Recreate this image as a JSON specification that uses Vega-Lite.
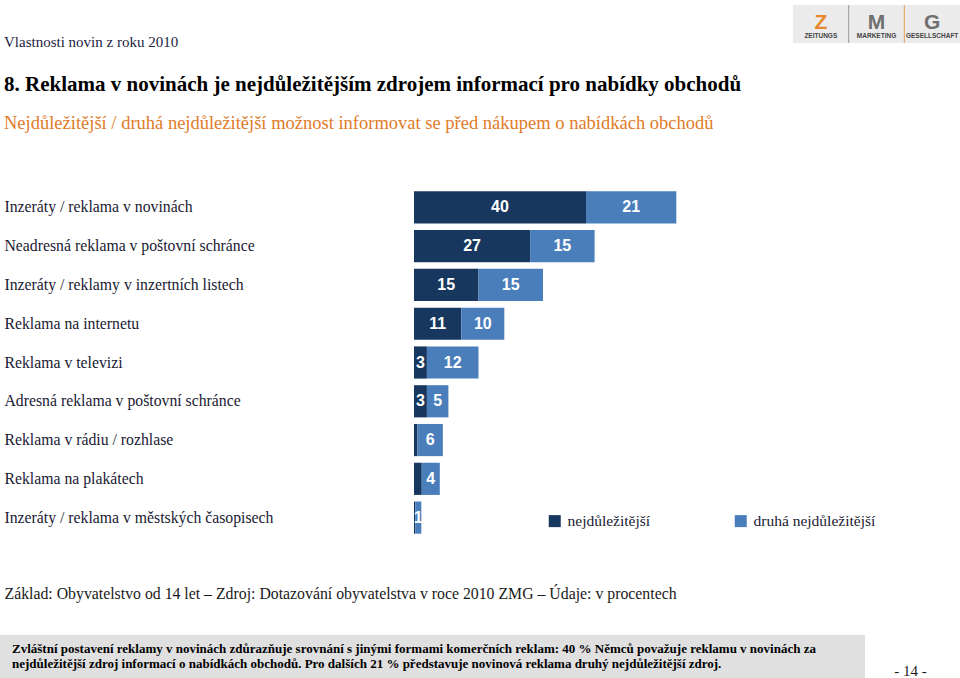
{
  "$schema": "https://vega.github.io/schema/vega-lite/v6.json",
  "background": "white",
  "padding": {"left": 0, "top": 4, "right": 0, "bottom": 0},
  "autosize": {"type": "pad"},
  "config": {"view": {"stroke": null}, "font": "Liberation Serif"},
  "spacing": 34,
  "vconcat": [
    {
      "spacing": 23,
      "vconcat": [
        {
          "spacing": 0,
          "hconcat": [
            {
              "width": 793,
              "height": 38,
              "title": {
                "text": "Vlastnosti novin z roku 2010",
                "orient": "bottom",
                "anchor": "start",
                "frame": "group",
                "baseline": "top",
                "offset": -8,
                "dx": 4,
                "font": "Liberation Serif",
                "fontSize": 15,
                "fontWeight": "normal",
                "color": "#1c2340"
              },
              "data": {"values": [{"blank": ""}]},
              "mark": {"type": "text"},
              "encoding": {"text": {"field": "blank", "type": "nominal"}}
            },
            {
              "width": 167,
              "height": 38,
              "view": {"fill": "#ebebeb", "stroke": null},
              "data": {
                "values": [
                  {"letter": "Z", "word": "ZEITUNGS"},
                  {"letter": "M", "word": "MARKETING"},
                  {"letter": "G", "word": "GESELLSCHAFT"}
                ]
              },
              "encoding": {
                "x": {
                  "field": "letter",
                  "type": "nominal",
                  "sort": ["Z", "M", "G"],
                  "scale": {"paddingInner": 0, "paddingOuter": 0},
                  "axis": null
                }
              },
              "layer": [
                {
                  "transform": [{"filter": "datum.letter !== 'Z'"}],
                  "mark": {"type": "rule", "strokeWidth": 1},
                  "encoding": {
                    "x": {"field": "letter", "type": "nominal", "sort": ["Z", "M", "G"], "bandPosition": 0},
                    "color": {"condition": {"test": "datum.letter === 'G'", "value": "#E8A055"}, "value": "#9a9a9a"}
                  }
                },
                {
                  "mark": {"type": "text", "font": "Liberation Sans", "fontWeight": "bold", "fontSize": 21, "dy": -1, "baseline": "middle"},
                  "encoding": {
                    "text": {"field": "letter", "type": "nominal"},
                    "color": {"condition": {"test": "datum.letter === 'Z'", "value": "#E8892E"}, "value": "#6f6f6f"}
                  }
                },
                {
                  "mark": {"type": "text", "font": "Liberation Sans", "fontWeight": "bold", "fontSize": 6.5, "dy": 12, "baseline": "middle", "color": "#444444"},
                  "encoding": {"text": {"field": "word", "type": "nominal"}}
                }
              ]
            }
          ]
        },
        {
          "width": 884,
          "height": 349,
          "title": {
            "text": "8. Reklama v novinách je nejdůležitějším zdrojem informací pro nabídky obchodů",
            "subtitle": "Nejdůležitější / druhá nejdůležitější možnost informovat se před nákupem o nabídkách obchodů",
            "anchor": "start",
            "dx": 4,
            "font": "Liberation Serif",
            "fontSize": 21,
            "fontWeight": "bold",
            "color": "#000000",
            "subtitleFont": "Liberation Serif",
            "subtitleFontSize": 18.5,
            "subtitleColor": "#E07B28",
            "subtitlePadding": 19,
            "offset": 56
          },
          "data": {
            "values": [
              {"cat": "Inzeráty / reklama v novinách", "type": "nejdůležitější", "value": 40},
              {"cat": "Inzeráty / reklama v novinách", "type": "druhá nejdůležitější", "value": 21},
              {"cat": "Neadresná reklama v poštovní schránce", "type": "nejdůležitější", "value": 27},
              {"cat": "Neadresná reklama v poštovní schránce", "type": "druhá nejdůležitější", "value": 15},
              {"cat": "Inzeráty / reklamy v inzertních listech", "type": "nejdůležitější", "value": 15},
              {"cat": "Inzeráty / reklamy v inzertních listech", "type": "druhá nejdůležitější", "value": 15},
              {"cat": "Reklama na internetu", "type": "nejdůležitější", "value": 11},
              {"cat": "Reklama na internetu", "type": "druhá nejdůležitější", "value": 10},
              {"cat": "Reklama v televizi", "type": "nejdůležitější", "value": 3},
              {"cat": "Reklama v televizi", "type": "druhá nejdůležitější", "value": 12},
              {"cat": "Adresná reklama v poštovní schránce", "type": "nejdůležitější", "value": 3},
              {"cat": "Adresná reklama v poštovní schránce", "type": "druhá nejdůležitější", "value": 5},
              {"cat": "Reklama v rádiu / rozhlase", "type": "nejdůležitější", "value": 0.8},
              {"cat": "Reklama v rádiu / rozhlase", "type": "druhá nejdůležitější", "value": 5.9},
              {"cat": "Reklama na plakátech", "type": "nejdůležitější", "value": 1.8},
              {"cat": "Reklama na plakátech", "type": "druhá nejdůležitější", "value": 4.2},
              {"cat": "Inzeráty / reklama v městských časopisech", "type": "nejdůležitější", "value": 0.3},
              {"cat": "Inzeráty / reklama v městských časopisech", "type": "druhá nejdůležitější", "value": 1.4}
            ]
          },
          "transform": [
            {"stack": "value", "groupby": ["cat"], "sort": [{"field": "type", "order": "descending"}], "as": ["x0", "x1"]},
            {"calculate": "(datum.x0 + datum.x1) / 2", "as": "mid"}
          ],
          "encoding": {
            "y": {
              "field": "cat",
              "type": "nominal",
              "sort": [
                "Inzeráty / reklama v novinách",
                "Neadresná reklama v poštovní schránce",
                "Inzeráty / reklamy v inzertních listech",
                "Reklama na internetu",
                "Reklama v televizi",
                "Adresná reklama v poštovní schránce",
                "Reklama v rádiu / rozhlase",
                "Reklama na plakátech",
                "Inzeráty / reklama v městských časopisech"
              ],
              "scale": {"paddingInner": 0.17, "paddingOuter": 0.085},
              "axis": {
                "title": null,
                "orient": "left",
                "domain": false,
                "ticks": false,
                "tickSize": 0,
                "labelAlign": "left",
                "labelPadding": -4,
                "labelFont": "Liberation Serif",
                "labelFontSize": 15.75,
                "labelColor": "#1a1a33",
                "labelLimit": 400
              }
            }
          },
          "layer": [
            {
              "mark": {"type": "bar"},
              "encoding": {
                "x": {
                  "field": "x0",
                  "type": "quantitative",
                  "scale": {"domain": [-96.28, 109.3], "nice": false, "zero": false},
                  "axis": {
                    "title": "Základ: Obyvatelstvo od 14 let – Zdroj: Dotazování obyvatelstva v roce 2010 ZMG – Údaje: v procentech",
                    "labels": false,
                    "ticks": false,
                    "domain": false,
                    "grid": false,
                    "titleFont": "Liberation Serif",
                    "titleFontSize": 15.8,
                    "titleFontWeight": "normal",
                    "titleColor": "#1a1a1a",
                    "titleAlign": "left",
                    "titleBaseline": "top",
                    "titleX": 4,
                    "titleY": 49
                  }
                },
                "x2": {"field": "x1"},
                "color": {
                  "field": "type",
                  "type": "nominal",
                  "scale": {
                    "domain": ["nejdůležitější", "druhá nejdůležitější"],
                    "range": ["#17375E", "#4A7EBB"]
                  },
                  "legend": {
                    "title": null,
                    "orient": "none",
                    "direction": "horizontal",
                    "legendX": 547,
                    "legendY": 508,
                    "symbolType": "square",
                    "symbolSize": 144,
                    "symbolStrokeWidth": 0,
                    "labelFont": "Liberation Serif",
                    "labelFontSize": 15.5,
                    "labelColor": "#1a1a33",
                    "labelOffset": 5,
                    "columnPadding": 82,
                    "labelLimit": 300,
                    "encode": {
                      "symbols": {
                        "update": {
                          "fill": {"signal": "datum.value === 'nejdůležitější' ? '#17375E' : '#95B3D7'"},
                          "opacity": {"value": 1}
                        }
                      }
                    }
                  }
                }
              }
            },
            {
              "transform": [
                {"filter": "datum.type === 'druhá nejdůležitější' || datum.value >= 2.5"}
              ],
              "mark": {
                "type": "text",
                "font": "Liberation Sans",
                "fontSize": 16,
                "fontWeight": "bold",
                "color": "white",
                "align": "center",
                "baseline": "middle"
              },
              "encoding": {
                "x": {"field": "mid", "type": "quantitative"},
                "text": {"field": "value", "type": "quantitative", "format": ".0f"}
              }
            }
          ]
        }
      ]
    },
    {
      "spacing": 28,
      "hconcat": [
        {
          "width": 865,
          "height": 44,
          "view": {"fill": "#e0e0e0", "stroke": null},
          "title": {
            "text": [
              "Zvláštní postavení reklamy v novinách zdůrazňuje srovnání s jinými formami komerčních reklam: 40 % Němců považuje reklamu v novinách za",
              "nejdůležitější zdroj informací o nabídkách obchodů. Pro dalších 21 % představuje novinová reklama druhý nejdůležitější zdroj."
            ],
            "anchor": "start",
            "frame": "group",
            "orient": "top",
            "baseline": "top",
            "offset": -36,
            "dx": 12,
            "font": "Liberation Serif",
            "fontSize": 13,
            "fontWeight": "bold",
            "lineHeight": 15,
            "color": "#000000"
          },
          "data": {"values": [{"blank": ""}]},
          "mark": {"type": "text"},
          "encoding": {"text": {"field": "blank", "type": "nominal"}}
        },
        {
          "width": 35,
          "height": 44,
          "data": {"values": [{"page": "- 14 -"}]},
          "mark": {"type": "text", "font": "Liberation Serif", "fontSize": 15, "color": "#1a1a1a", "dy": 14},
          "encoding": {"text": {"field": "page", "type": "nominal"}}
        }
      ]
    }
  ]
}
